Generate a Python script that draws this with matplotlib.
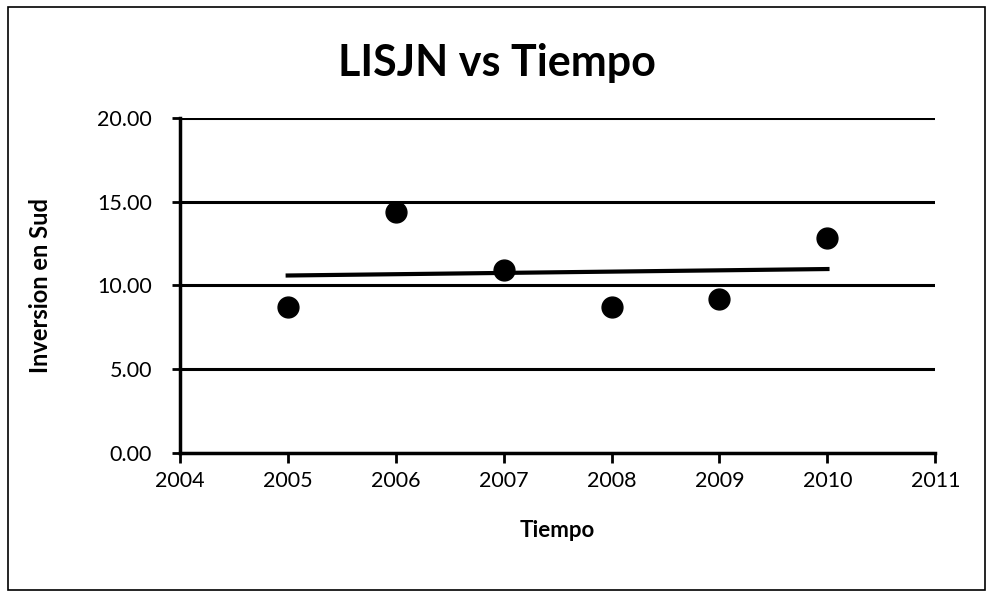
import matplotlib
matplotlib.use("Agg")
import matplotlib.pyplot as plt
import numpy as np
from matplotlib.patches import Rectangle

years = [2005, 2006, 2007, 2008, 2009, 2010]
values = [8.7, 14.4, 10.9, 8.7, 9.2, 12.8]
x_ticks = [2004, 2005, 2006, 2007, 2008, 2009, 2010, 2011]
y_ticks = [0, 5, 10, 15, 20]

plt.rcParams['font.family'] = ['Lato', 'DejaVu Sans']

fig = plt.figure(figsize=(9.93, 5.98), dpi=100)
fig.patches.append(Rectangle((0.008, 0.013), 0.984, 0.975, transform=fig.transFigure,
                             fill=False, edgecolor='black', linewidth=1.2))
ax = fig.add_axes([0.181, 0.2425, 0.761, 0.5605])

ax.set_xlim(2004, 2011)
ax.set_ylim(0, 20)
ax.set_xticks(x_ticks)
ax.set_yticks(y_ticks)
ax.set_yticklabels([f"{v:.2f}" for v in y_ticks])
ax.grid(axis='y', color='black', linewidth=2.2)
ax.set_axisbelow(True)
for s in ['top', 'right']:
    ax.spines[s].set_visible(False)
for s in ['left', 'bottom']:
    ax.spines[s].set_linewidth(2.5)
ax.tick_params(axis='y', direction='out', width=2, length=6, labelsize=15.5, pad=14)
ax.tick_params(axis='x', direction='out', width=2, length=7, labelsize=15.5, pad=6)

ax.plot(years, values, 'o', color='black', markersize=15, zorder=3)
coef = np.polyfit(years, values, 1)
xs = np.array([years[0], years[-1]])
ax.plot(xs, np.polyval(coef, xs), color='black', linewidth=3, zorder=2)

ax.set_xlabel('Tiempo', fontsize=16, fontweight='bold')
ax.xaxis.set_label_coords(0.5, -0.2)
ax.set_ylabel('Inversion en Sud', fontsize=17, fontweight='bold')
ax.yaxis.set_label_coords(-0.169, 0.5)
fig.text(0.5, 0.895, 'LISJN vs Tiempo', ha='center', va='center', fontsize=31, fontweight='bold')

fig.savefig('out.png', dpi=100)
